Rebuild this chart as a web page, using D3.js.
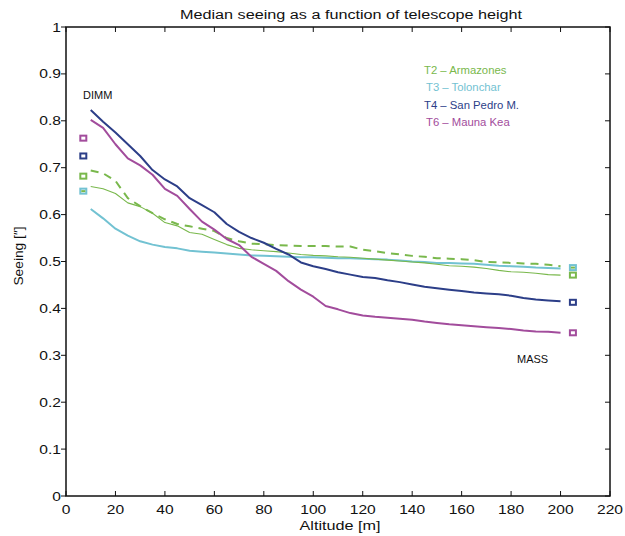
<!DOCTYPE html>
<html><head><meta charset="utf-8">
<script src="https://cdn.jsdelivr.net/npm/d3@7"></script>
<style>body{margin:0;background:#fff}svg{display:block;font-family:"Liberation Sans",Arial,sans-serif}</style>
</head><body><svg id="c" width="625" height="536"></svg>
<script>
const altitudes = [10,15,20,25,30,35,40,45,50,55,60,65,70,75,80,85,90,95,100,105,110,115,120,125,130,135,140,145,150,155,160,165,170,175,180,185,190,195,200];
const t2Solid = [0.66,0.655,0.645,0.625,0.617,0.603,0.583,0.576,0.562,0.558,0.547,0.536,0.528,0.525,0.523,0.521,0.518,0.515,0.513,0.512,0.51,0.509,0.507,0.505,0.503,0.501,0.499,0.497,0.494,0.491,0.49,0.488,0.485,0.481,0.478,0.477,0.475,0.472,0.471];
const t2Dashed = [0.694,0.688,0.672,0.635,0.618,0.603,0.59,0.58,0.575,0.57,0.565,0.55,0.543,0.538,0.537,0.535,0.534,0.533,0.533,0.533,0.532,0.532,0.525,0.522,0.518,0.515,0.512,0.51,0.507,0.506,0.505,0.503,0.499,0.498,0.497,0.496,0.495,0.493,0.49];
const t3 = [0.612,0.592,0.57,0.555,0.543,0.536,0.531,0.528,0.523,0.521,0.519,0.517,0.515,0.513,0.512,0.511,0.51,0.509,0.509,0.508,0.507,0.507,0.506,0.505,0.504,0.502,0.5,0.499,0.497,0.497,0.496,0.495,0.493,0.491,0.49,0.489,0.487,0.486,0.485];
const t4 = [0.823,0.798,0.775,0.75,0.725,0.695,0.675,0.66,0.635,0.62,0.605,0.58,0.563,0.55,0.54,0.527,0.515,0.498,0.49,0.484,0.477,0.472,0.467,0.465,0.46,0.456,0.451,0.446,0.443,0.44,0.437,0.434,0.432,0.43,0.427,0.422,0.419,0.417,0.415];
const t6 = [0.802,0.785,0.75,0.72,0.705,0.685,0.655,0.64,0.612,0.585,0.568,0.548,0.535,0.51,0.495,0.48,0.458,0.44,0.425,0.405,0.398,0.39,0.385,0.382,0.38,0.378,0.376,0.372,0.369,0.366,0.364,0.362,0.36,0.358,0.356,0.353,0.351,0.35,0.348];

const dimmAltitude = 7, massAltitude = 205;
const markerSites = ["T6","T4","T2","T3","T2b"];
const dimmValues = [0.763,0.725,0.682,0.650,0.650];
const massValues = [0.348,0.413,0.471,0.487,0.487];

const legendLabels = ["T2 \u2013 Armazones","T3 \u2013 Tolonchar","T4 \u2013 San Pedro M.","T6 \u2013 Mauna Kea"];
const xTicks = [0,20,40,60,80,100,120,140,160,180,200,220];
const yTicks = [0,0.1,0.2,0.3,0.4,0.5,0.6,0.7,0.8,0.9,1];

const colors = {T2:"#79b84c",T3:"#72c2d2",T4:"#2c3e88",T6:"#a24c9c",T2b:"#79b84c"};
const legendColors = ["#79b84c","#72c2d2","#2c3e88","#a24c9c"];

const svg = d3.select("#c");
const x = d3.scaleLinear().domain([0,220]).range([66,610]);
const y = d3.scaleLinear().domain([0,1]).range([496,27]);

// text with horizontal stretch (reference font is wider)
function txt(parent,px,py,str,size,sx,anchor,fill,rot){
  return parent.append("text")
    .attr("transform",`translate(${px},${py})`+(rot?` rotate(${rot})`:"")+` scale(${sx},1)`)
    .attr("text-anchor",anchor||"start").attr("font-size",size).attr("fill",fill||"#111").text(str);
}

txt(svg,351,19,"Median seeing as a function of telescope height",13.5,1.2,"middle");

const g = svg.append("g");
g.append("rect").attr("x",x(0)).attr("y",y(1)).attr("width",x(220)-x(0)).attr("height",y(0)-y(1))
  .attr("fill","none").attr("stroke","#111").attr("stroke-width",1.5);

const tl = 5;
xTicks.forEach(t=>{
  g.append("line").attr("x1",x(t)).attr("x2",x(t)).attr("y1",y(0)).attr("y2",y(0)-tl).attr("stroke","#111");
  g.append("line").attr("x1",x(t)).attr("x2",x(t)).attr("y1",y(1)).attr("y2",y(1)+tl).attr("stroke","#111");
  txt(g,x(t),y(0)+18,t,13,1.2,"middle");
});
yTicks.forEach(t=>{
  g.append("line").attr("x1",x(0)-tl).attr("x2",x(0)).attr("y1",y(t)).attr("y2",y(t)).attr("stroke","#111");
  g.append("line").attr("x1",x(220)).attr("x2",x(220)-tl).attr("y1",y(t)).attr("y2",y(t)).attr("stroke","#111");
  txt(g,x(0)-5,y(t)+4.5,d3.format("~g")(t),13,1.2,"end");
});

txt(svg,340,530,"Altitude [m]",13.5,1.2,"middle");
txt(svg,23,256,"Seeing [\u2033]",13,1.06,"middle","#111",-90);

// lines
const line = d3.line().x((d,i)=>x(altitudes[i])).y(d=>y(d));
const series = [
  {v:t3,c:colors.T3,w:2,dash:null},
  {v:t2Solid,c:colors.T2,w:1.1,dash:null},
  {v:t2Dashed,c:colors.T2,w:2,dash:"8,6"},
  {v:t4,c:colors.T4,w:2,dash:null},
  {v:t6,c:colors.T6,w:2,dash:null}
];
series.forEach(s=>{
  svg.append("path").attr("d",line(s.v)).attr("fill","none").attr("stroke",s.c)
    .attr("stroke-width",s.w).attr("stroke-dasharray",s.dash).attr("stroke-linejoin","round");
});

// markers
function marker(xv,yv,site){
  if(site==="T2b"){
    svg.append("rect").attr("x",x(xv)-2).attr("y",y(yv)-1).attr("width",4).attr("height",2).attr("fill",colors.T2);
    return;
  }
  svg.append("rect").attr("x",x(xv)-3).attr("y",y(yv)-2.5).attr("width",6).attr("height",5)
    .attr("fill","#fff").attr("stroke",colors[site]).attr("stroke-width",2);
}
markerSites.forEach((s,i)=>{ marker(dimmAltitude,dimmValues[i],s); marker(massAltitude,massValues[i],s); });

txt(svg,83,98.5,"DIMM",10,1.1);
txt(svg,517,363,"MASS",10,1.1);

// legend
legendLabels.forEach((l,i)=>{
  txt(svg,i%2?426:424,74+i*17.3,l,10.5,1.08,"start",legendColors[i]);
});
</script></body></html>
